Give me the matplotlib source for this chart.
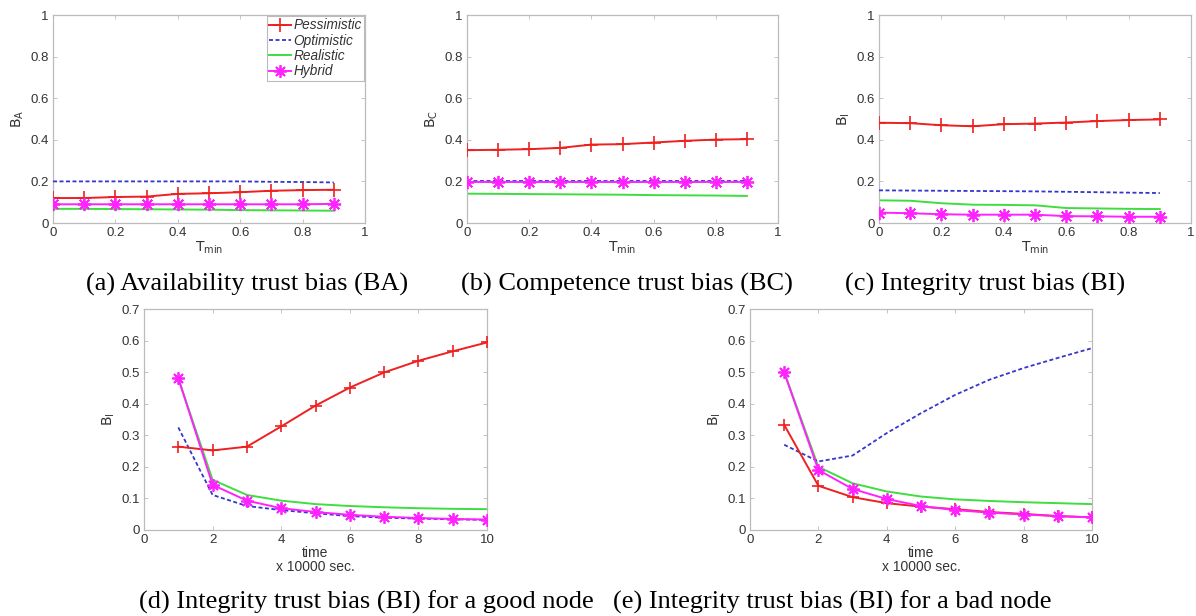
import matplotlib
matplotlib.use("Agg")
import matplotlib.pyplot as plt
from matplotlib.lines import Line2D

# ---------------- data ----------------
tmin = [0.0, 0.1, 0.2, 0.3, 0.4, 0.5, 0.6, 0.7, 0.8, 0.9]
time = [1, 2, 3, 4, 5, 6, 7, 8, 9, 10]

a_pess = [0.12, 0.12, 0.125, 0.127, 0.14, 0.143, 0.148, 0.155, 0.158, 0.16]
a_opt = [0.2, 0.2, 0.2, 0.2, 0.2, 0.2, 0.2, 0.198, 0.197, 0.195]
a_real = [0.068, 0.068, 0.067, 0.066, 0.065, 0.064, 0.062, 0.061, 0.06, 0.059]
a_hyb = [0.09, 0.09, 0.09, 0.09, 0.09, 0.09, 0.09, 0.09, 0.09, 0.092]

b_pess = [0.35, 0.352, 0.355, 0.361, 0.377, 0.379, 0.387, 0.395, 0.401, 0.403]
b_opt = [0.2, 0.2, 0.2, 0.2, 0.2, 0.2, 0.2, 0.2, 0.2, 0.2]
b_real = [0.141, 0.14, 0.139, 0.138, 0.137, 0.136, 0.134, 0.133, 0.132, 0.13]
b_hyb = [0.197, 0.197, 0.197, 0.197, 0.197, 0.197, 0.197, 0.197, 0.197, 0.197]

c_pess = [0.482, 0.48, 0.47, 0.465, 0.475, 0.478, 0.483, 0.49, 0.495, 0.498]
c_opt = [0.157, 0.156, 0.155, 0.154, 0.153, 0.152, 0.15, 0.148, 0.146, 0.144]
c_real = [0.109, 0.107, 0.095, 0.088, 0.087, 0.085, 0.072, 0.07, 0.068, 0.067]
c_hyb = [0.05, 0.047, 0.042, 0.04, 0.04, 0.04, 0.033, 0.032, 0.03, 0.03]

d_pess = [0.264, 0.252, 0.264, 0.328, 0.394, 0.451, 0.499, 0.536, 0.566, 0.594]
d_opt = [0.325, 0.111, 0.076, 0.063, 0.053, 0.044, 0.039, 0.036, 0.034, 0.032]
d_real = [0.48, 0.159, 0.111, 0.093, 0.082, 0.076, 0.072, 0.069, 0.067, 0.066]
d_hyb = [0.481, 0.143, 0.093, 0.069, 0.057, 0.048, 0.042, 0.038, 0.035, 0.033]

e_pess = [0.333, 0.14, 0.104, 0.085, 0.074, 0.066, 0.057, 0.051, 0.044, 0.04]
e_opt = [0.27, 0.217, 0.236, 0.307, 0.37, 0.428, 0.476, 0.513, 0.545, 0.576]
e_real = [0.5, 0.2, 0.148, 0.122, 0.106, 0.097, 0.092, 0.088, 0.085, 0.082]
e_hyb = [0.499, 0.19, 0.13, 0.098, 0.076, 0.063, 0.055, 0.049, 0.044, 0.04]

labels = ["Pessimistic", "Optimistic", "Realistic", "Hybrid"]
captions = ["(a) Availability trust bias (BA)",
            "(b) Competence trust bias (BC)",
            "(c) Integrity trust bias (BI)",
            "(d) Integrity trust bias (BI) for a good node",
            "(e) Integrity trust bias (BI) for a bad node"]

# ---------------- style ----------------
RED = "#ee2020"
BLUE = "#3535d0"
GREEN = "#40dd40"
MAG = "#ff22ff"
TICKC = "#333333"
SPINEC = "#bbbbbb"

W, H = 1196, 616
fig = plt.figure(figsize=(W / 100, H / 100), dpi=100)
plt.rcParams['font.family'] = ['Liberation Sans', 'DejaVu Sans']


def px_axes(l, t, r, b):
    return fig.add_axes([l / W, 1 - b / H, (r - l) / W, (b - t) / H])


def draw(ax, x, pess, opt, real, hyb, pms, hms):
    ax.plot(x, real, '-', color=GREEN, lw=1.4, zorder=2)
    ax.plot(x, opt, color=BLUE, lw=1.3, dashes=(2.2, 1.4), zorder=3)
    ax.plot(x, pess, '-', color=RED, lw=1.4, marker='+', ms=pms, mew=1.2, zorder=4)
    ax.plot(x, hyb, '-', color=MAG, lw=1.4, marker=(8, 2, 0), ms=hms, mew=1.3, zorder=5)


def style(ax):
    for s in ax.spines.values():
        s.set_color(SPINEC)
        s.set_linewidth(0.9)
    ax.tick_params(direction='in', top=True, right=True, length=3, width=0.6,
                   color=SPINEC, labelcolor=TICKC, labelsize=9.5, pad=3)


top = [(53, 15, 365, 223), (467, 15, 778, 223), (879, 15, 1191, 223)]
topdata = [(a_pess, a_opt, a_real, a_hyb), (b_pess, b_opt, b_real, b_hyb),
           (c_pess, c_opt, c_real, c_hyb)]
ylabs = [r'$\mathrm{B_A}$', r'$\mathrm{B_C}$', r'$\mathrm{B_I}$']
for i, (box, dat) in enumerate(zip(top, topdata)):
    ax = px_axes(*box)
    draw(ax, tmin, *dat, pms=10.5, hms=9.5)
    ax.set_xlim(0, 1)
    ax.set_ylim(0, 1)
    ax.set_xticks([0, 0.2, 0.4, 0.6, 0.8, 1])
    ax.set_xticklabels(['0', '0.2', '0.4', '0.6', '0.8', '1'])
    ax.set_yticks([0, 0.2, 0.4, 0.6, 0.8, 1])
    ax.set_yticklabels(['0', '0.2', '0.4', '0.6', '0.8', '1'])
    style(ax)
    ax.set_xlabel(r'$\mathrm{T_{min}}$', fontsize=10, color=TICKC, labelpad=0)
    ax.set_ylabel(ylabs[i], fontsize=10, color=TICKC, labelpad=3)
    if i == 0:
        handles = [Line2D([], [], color=RED, lw=1.4, marker='+', ms=10, mew=1.2),
                   Line2D([], [], color=BLUE, lw=1.3, dashes=(2.2, 1.4)),
                   Line2D([], [], color=GREEN, lw=1.4),
                   Line2D([], [], color=MAG, lw=1.4, marker=(8, 2, 0), ms=9, mew=1.3)]
        leg = ax.legend(handles, labels, loc='upper right',
                        prop={'style': 'italic', 'size': 9.8},
                        handlelength=1.6, handletextpad=0.15, labelspacing=0.1,
                        borderpad=0.2, borderaxespad=0.05, fancybox=False,
                        edgecolor=SPINEC, framealpha=1)
        leg.get_frame().set_linewidth(0.8)
        for t in leg.get_texts():
            t.set_color(TICKC)

bottom = [(144, 309, 487, 530), (750, 309, 1092, 530)]
botdata = [(d_pess, d_opt, d_real, d_hyb), (e_pess, e_opt, e_real, e_hyb)]
for box, dat in zip(bottom, botdata):
    ax = px_axes(*box)
    draw(ax, time, *dat, pms=9, hms=9)
    ax.set_xlim(0, 10)
    ax.set_ylim(0, 0.7)
    ax.set_xticks([0, 2, 4, 6, 8, 10])
    ax.set_yticks([0, 0.1, 0.2, 0.3, 0.4, 0.5, 0.6, 0.7])
    ax.set_yticklabels(['0', '0.1', '0.2', '0.3', '0.4', '0.5', '0.6', '0.7'])
    style(ax)
    ax.set_xlabel('time\nx 10000 sec.', fontsize=10, color=TICKC, labelpad=0,
                  linespacing=0.95)
    ax.set_ylabel(r'$\mathrm{B_I}$', fontsize=10, color=TICKC, labelpad=3)

cap_pos = [(247, 284), (627, 284), (985, 284), (366, 602), (832, 602)]
for (cx, cy), txt in zip(cap_pos, captions):
    fig.text(cx / W, 1 - cy / H, txt, ha='center', va='center',
             fontsize=19, family='Liberation Serif', color='black')

fig.savefig('out.png', dpi=100)
